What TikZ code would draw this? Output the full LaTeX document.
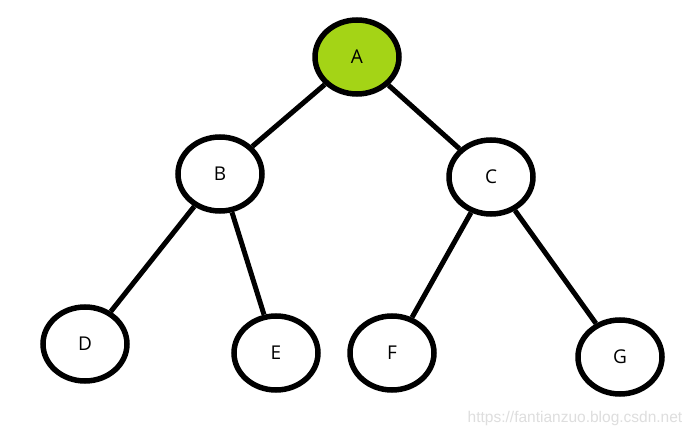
\documentclass[tikz,border=0pt]{standalone}
\usepackage{fontspec}
\setmainfont{Open Sans}
\newfontfamily\wmfont{Liberation Sans}
\usetikzlibrary{shapes.geometric}
\definecolor{leaf}{RGB}{164,212,22}
\definecolor{wm}{RGB}{222,222,222}
\begin{document}
\begin{tikzpicture}[x=1pt,y=-1pt,
  tnode/.style={ellipse,draw=black,line width=5.5pt,fill=white,minimum width=84pt,minimum height=74pt,inner sep=0pt,font=\fontsize{19}{19}\selectfont},
  edge/.style={draw=black,line width=5pt}]
\useasboundingbox (0,0) rectangle (695,438);
\fill[white] (0,0) rectangle (695,438);
\node[tnode,fill=leaf] (A) at (357,57) {A};
\node[tnode] (B) at (220,174) {B};
\node[tnode] (C) at (491,177) {C};
\node[tnode] (D) at (85,344) {D};
\node[tnode] (E) at (276,353) {E};
\node[tnode] (F) at (392,353) {F};
\node[tnode] (G) at (620,357) {G};
\draw[edge] (A) -- (B);
\draw[edge] (A) -- (C);
\draw[edge] (B) -- (D);
\draw[edge] (B) -- (E);
\draw[edge] (C) -- (F);
\draw[edge] (C) -- (G);
\node[text=wm,font=\wmfont\fontsize{15.5}{15.5}\selectfont,inner sep=0pt] (wmk) at (575,418) {https://fantianzuo.blog.csdn.net};
\end{tikzpicture}
\end{document}
